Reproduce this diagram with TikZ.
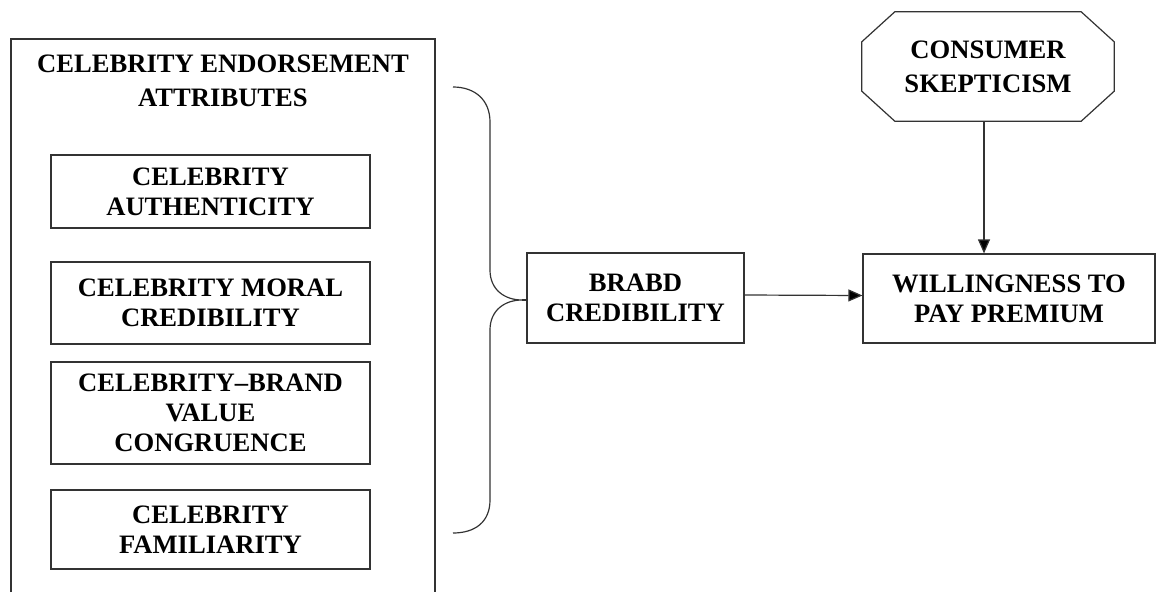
\documentclass[tikz,border=0pt]{standalone}
\usepackage{fontspec}
\setmainfont{Liberation Serif}
\usetikzlibrary{arrows.meta,calc}
\begin{document}
\begin{tikzpicture}[x=1pt,y=-1pt,
  line/.style={draw=black!80,line width=1.2pt},
  lbl/.style={font=\bfseries\fontsize{26.6}{30}\selectfont,align=center,text=black,inner sep=0pt},
  box/.style={line,lbl,rectangle,inner sep=0pt},
  arr/.style={line,-{Triangle[length=14pt,width=12pt,fill=black]}}]
\useasboundingbox (0,0) rectangle (1157,592);
% outer container
\draw[line] (11,592) -- (11,39) -- (435,39) -- (435,592);
\node[lbl,font=\bfseries\fontsize{26.6}{34}\selectfont] (title) at (223,80.5) {CELEBRITY ENDORSEMENT\\ATTRIBUTES};
% inner boxes
\node[box,minimum width=319,minimum height=73] (auth) at (210.5,191.5) {CELEBRITY\\AUTHENTICITY};
\node[box,minimum width=319,minimum height=82] (moral) at (210.5,303) {CELEBRITY MORAL\\CREDIBILITY};
\node[box,minimum width=319,minimum height=102] (cong) at (210.5,413) {CELEBRITY–BRAND\\VALUE\\CONGRUENCE};
\node[box,minimum width=319,minimum height=79] (fam) at (210.5,529.5) {CELEBRITY\\FAMILIARITY};
% brand credibility
\node[box,minimum width=217,minimum height=90] (brabd) at (635.5,298) {BRABD\\CREDIBILITY};
% willingness
\node[box,minimum width=292,minimum height=89] (wtp) at (1009,298.5) {WILLINGNESS TO\\PAY PREMIUM};
% skepticism octagon
\node[lbl,minimum width=252,minimum height=109,font=\bfseries\fontsize{26.6}{34}\selectfont] (sk) at (988,66.5) {CONSUMER\\SKEPTICISM};
\draw[line] ([xshift=33pt]sk.north west) -- ([xshift=-33pt]sk.north east)
  -- ([yshift=-30pt]sk.north east) -- ([yshift=30pt]sk.south east)
  -- ([xshift=-33pt]sk.south east) -- ([xshift=33pt]sk.south west)
  -- ([yshift=30pt]sk.south west) -- ([yshift=-30pt]sk.north west) -- cycle;
% brace
\draw[line] (453,87) .. controls (475,87) and (490,100) .. (490,122) -- (490,270)
  .. controls (490,290) and (505,300) .. (522,300)
  .. controls (505,300) and (490,310) .. (490,330) -- (490,500)
  .. controls (490,522) and (475,533) .. (453,533);
\draw[line] (522,300) -- (brabd.west |- 522,300);
% arrows
\draw[arr] ([yshift=3pt]brabd.east) -- ([yshift=3pt]wtp.west);
\draw[arr] ([xshift=-4pt]sk.south) -- ([xshift=-4pt]sk.south |- wtp.north);
\end{tikzpicture}
\end{document}
